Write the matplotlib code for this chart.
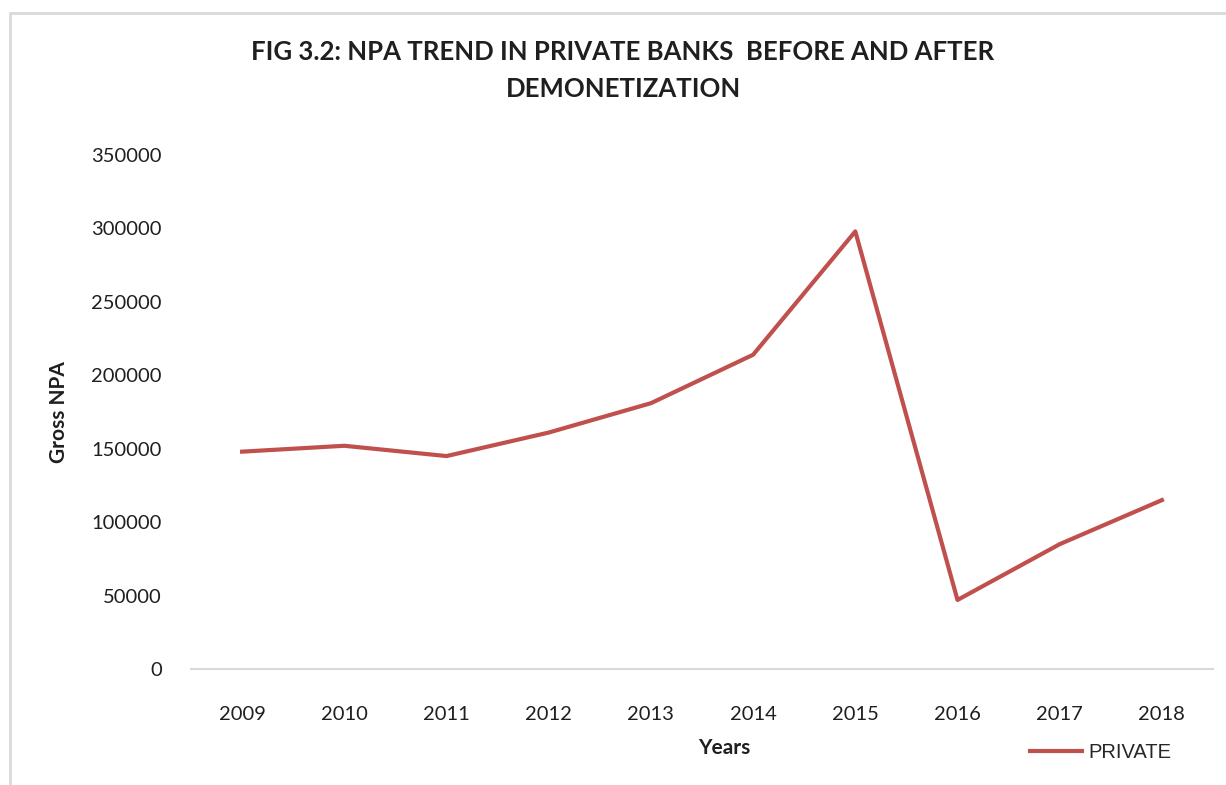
import matplotlib
matplotlib.use("Agg")
import matplotlib.pyplot as plt
from matplotlib.patches import Rectangle

years = ["2009", "2010", "2011", "2012", "2013", "2014", "2015", "2016", "2017", "2018"]
private_npa = [148000, 152000, 145000, 161000, 181000, 214000, 298000, 47000, 85000, 115000]
y_ticks = [0, 50000, 100000, 150000, 200000, 250000, 300000, 350000]

plt.rcParams['font.family'] = ['Lato', 'DejaVu Sans']

fig = plt.figure(figsize=(12.26, 7.85), dpi=100)
ax = fig.add_axes([0.1558, 0.1478, 0.8336, 0.6547])

# light border around the chart area
fig.patches.append(Rectangle((10 / 1226, -0.05), 1.2, 1 - 13 / 785 + 0.05,
                             transform=fig.transFigure, fill=False,
                             edgecolor="#d9d9d9", linewidth=2))

x = list(range(len(years)))
ax.plot(x, private_npa, color="#c0504d", linewidth=3, label="PRIVATE")

ax.set_xlim(-0.5, len(years) - 0.5)
ax.set_ylim(0, 350000)
ax.set_xticks(x)
ax.set_xticklabels(years)
ax.set_yticks(y_ticks)
ax.set_yticklabels([str(v) for v in y_ticks])

for side in ["top", "right", "left"]:
    ax.spines[side].set_visible(False)
ax.spines["bottom"].set_color("#d9d9d9")
ax.spines["bottom"].set_linewidth(1.5)
ax.tick_params(axis="both", length=0, labelsize=14.5, colors="#1f1f1f")
ax.tick_params(axis="x", pad=27)
ax.tick_params(axis="y", pad=21)

ax.set_ylabel("Gross NPA", fontsize=15, fontweight="bold", color="#1f1f1f", labelpad=16)
fig.text(724 / 1226, 1 - 748 / 785, "Years", fontsize=15, fontweight="bold",
         color="#1f1f1f", ha="center", va="center")

fig.text(623 / 1226, 1 - 52 / 785, "FIG 3.2: NPA TREND IN PRIVATE BANKS  BEFORE AND AFTER",
         fontsize=18.5, fontweight="bold", color="#1f1f1f", ha="center", va="center")
fig.text(623 / 1226, 1 - 89 / 785, "DEMONETIZATION",
         fontsize=18.5, fontweight="bold", color="#1f1f1f", ha="center", va="center")

leg = ax.legend(loc="center left", bbox_to_anchor=(1020 / 1226, 1 - 753 / 785),
                bbox_transform=fig.transFigure, frameon=False, fontsize=14.5,
                handlelength=2.6, handletextpad=0.3, borderpad=0)
for t in leg.get_texts():
    t.set_family(["Liberation Sans", "DejaVu Sans"])
    t.set_color("#262626")

fig.savefig("out.png", dpi=100)
